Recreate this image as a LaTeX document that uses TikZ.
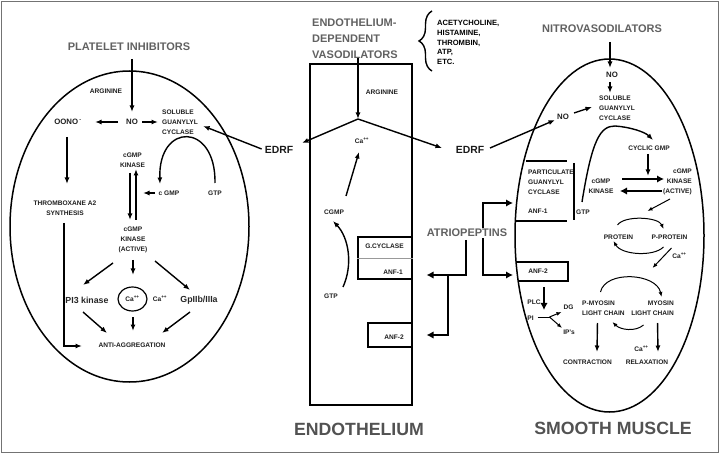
\documentclass[tikz,border=0pt]{standalone}
\usepackage{fontspec}
\setmainfont{Liberation Sans}
\usetikzlibrary{arrows.meta,decorations.pathreplacing,shapes.geometric}

\begin{document}
\begin{tikzpicture}[x=1pt, y=-1pt, >={Latex[length=6.5pt,width=5pt]}]
        \tikzstyle{every node}=[inner sep=0pt]
        \tikzstyle{ttl}=[font=\bfseries\fontsize{11}{16}\selectfont, text=black!62, align=left]
        \tikzstyle{big}=[font=\bfseries\fontsize{17.7}{20}\selectfont, text=black!68]
        \tikzstyle{lbl}=[font=\bfseries\fontsize{6.6}{10}\selectfont, text=black!88, align=center]
        \tikzstyle{mid}=[font=\bfseries\fontsize{7.8}{10}\selectfont, text=black!88]
        \tikzstyle{med}=[font=\bfseries\fontsize{8.8}{10}\selectfont, text=black!85]
        \tikzstyle{edrf}=[font=\bfseries\fontsize{10.4}{12}\selectfont, text=black!90]
        \tikzstyle{arr}=[->, line width=1.4pt]
        \tikzstyle{thn}=[->, line width=1pt, >={Latex[length=5pt,width=4pt]}]
        \tikzstyle{thk}=[->, line width=2.3pt, >={Latex[length=7pt,width=7.5pt]}]
        \tikzstyle{wall}=[line width=1.5pt]

        \useasboundingbox (0,0) rectangle (720,454);
        \draw[black!55, line width=1.2pt] (1.5,1.5) rectangle (718.5,452.5);

        \node[edrf] (edrfL) at (279,150) {EDRF};
        \node[edrf] (edrfR) at (470,150) {EDRF};

        \draw[wall] (129.5,226.5) ellipse (119.5pt and 155.5pt);
        \node[ttl] (plt) at (129,47) {PLATELET INHIBITORS};
        \node[lbl] (argL) at (106,91) {ARGININE};
        \node[mid] (noL) at (132,122) {NO};
        \node[mid] (oono) at (68,122) {OONO\,\textsuperscript{-}};
        \node[lbl, align=left, anchor=west] (sgcL) at (162,122) {SOLUBLE\\GUANYLYL\\CYCLASE};
        \node[lbl] (ckL) at (132.5,160.5) {cGMP\\KINASE};
        \node[lbl] (cgmpL) at (169,193) {c GMP};
        \node[lbl] (gtpL) at (215,193) {GTP};
        \node[lbl] (thx) at (65,208) {THROMBOXANE A2\\SYNTHESIS};
        \node[lbl] (ckaL) at (133,240) {cGMP\\KINASE\\(ACTIVE)};
        \node[med] (pi3) at (87,300) {PI3 kinase};
        \node[draw, ellipse, line width=1.2pt, minimum width=29pt, minimum height=24pt] (cell) at (132.5,299) {};
        \node[lbl] (caIn) at (cell) {Ca\textsuperscript{++}};
        \node[lbl] (caOut) at (160,299) {Ca\textsuperscript{++}};
        \node[med] (gp) at (199,300) {GpIIb/IIIa};
        \node[lbl] (anti) at (132,345) {ANTI-AGGREGATION};

        \draw[arr] ([shift={(3,12)}]plt.center) -- ([shift={(0,-10)}]noL.center);
        \draw[arr] ([shift={(-14,0)}]noL.center) -- ([shift={(27,0)}]oono.center);
        \draw[arr] ([shift={(10,0)}]noL.center) -- ([shift={(-4,0)}]sgcL.west);
        \draw[arr] ([shift={(-3,-1)}]edrfL.west) -- ([shift={(5,4)}]sgcL.east);
        \draw[arr] ([shift={(-1,15)}]oono.center) -- ([shift={(2,-24)}]thx.center);
        \draw[arr] ([shift={(-1,15)}]thx.center) |- ([shift={(-50,1)}]anti.center);
        \draw[arr] ([shift={(0,-10)}]gtpL.center) .. controls +(1,-61) and +(-2,-62) .. ([shift={(-9,-9)}]cgmpL.center);
        \draw[arr] ([shift={(-14,0)}]cgmpL.center) -- ([shift={(10.5,32.5)}]ckL.center);
        \draw[arr, line width=1.8pt] ([shift={(-2.5,12.5)}]ckL.center) -- ([shift={(-3,-20)}]ckaL.center);
        \draw[arr, line width=1.8pt] ([shift={(3,-20)}]ckaL.center) -- ([shift={(3.5,8.5)}]ckL.center);
        \draw[arr] ([shift={(-20,23)}]ckaL.center) -- ([shift={(-4,-15)}]pi3.center);
        \draw[arr] ([shift={(0,20)}]ckaL.center) -- ([shift={(0.5,-24)}]cell.center);
        \draw[arr] ([shift={(22,21)}]ckaL.center) -- ([shift={(-9,-10)}]gp.center);
        \draw[arr] ([shift={(-4,12)}]pi3.center) -- ([shift={(-25,-12)}]anti.center);
        \draw[arr] ([shift={(0.5,18)}]cell.center) -- ([shift={(1,-14)}]anti.center);
        \draw[arr] ([shift={(-9,12)}]gp.center) -- ([shift={(30,-12)}]anti.center);

        \node[draw, wall, minimum width=102pt, minimum height=341pt] (ebox) at (361,234.5) {};
        \node[ttl, anchor=west] (edv) at (312,39) {ENDOTHELIUM-\\DEPENDENT\\VASODILATORS};
        \draw[decorate, decoration={brace, amplitude=13pt}, line width=1.4pt] (432,71) -- (432,11);
        \node[lbl, font=\bfseries\fontsize{7.6}{9.8}\selectfont, text=black, align=left, anchor=west] (agents) at (437,42.5) {ACETYCHOLINE,\\HISTAMINE,\\THROMBIN,\\ATP,\\ETC.};
        \node[lbl] (argC) at (382,92) {ARGININE};
        \coordinate (jn) at (358,119);
        \draw[arr] ([shift={(46,19)}]edv.west) -- (jn);
        \draw[arr] (jn) -- ([shift={(23,-7)}]edrfL.center);
        \draw[arr] (jn) -- ([shift={(-28,-2)}]edrfR.center);
        \node[lbl] (caC) at (362,141) {Ca\textsuperscript{++}};
        \node[lbl] (cgmpC) at (334,212) {CGMP};
        \node[lbl] (gtpC) at (331,296) {GTP};
        \draw[arr] ([shift={(12,-16)}]cgmpC.center) -- ([shift={(-3,11)}]caC.center);
        \draw[arr] ([shift={(12,-9)}]gtpC.center) .. controls +(10,-22) and +(16,17) .. ([shift={(-1,9)}]cgmpC.center);
        \node[draw, line width=1.1pt, minimum width=54pt, minimum height=42pt] (gcyc) at (385,258) {};
        \draw[black!40, line width=0.7pt] (gcyc.west) -- (gcyc.east);
        \node[lbl] (gcycT) at (384.5,246) {G.CYCLASE};
        \node[lbl] (anf1C) at (393,272) {ANF-1};
        \node[draw, line width=1.1pt, minimum width=44pt, minimum height=24pt] (anf2box) at (390,335) {};
        \node[lbl] (anf2C) at (394,337) {ANF-2};
        \node[big] (endo) at (359,429) {ENDOTHELIUM};

        \draw[wall] (609.5,235.5) ellipse (94.5pt and 176.5pt);
        \node[ttl] (nitro) at (602,29) {NITROVASODILATORS};
        \node[mid] (noR1) at (612,75) {NO};
        \node[lbl, align=left, anchor=west] (sgcR) at (599,108) {SOLUBLE\\GUANYLYL\\CYCLASE};
        \node[mid] (noR2) at (563,117) {NO};
        \node[lbl] (cyc) at (649,148) {CYCLIC GMP};
        \node[lbl] (ckR) at (601,186.5) {cGMP\\KINASE};
        \node[lbl, align=right, anchor=east] (ckaR) at (692,181.5) {cGMP\\KINASE\\(ACTIVE)};
        \node[lbl, align=left, anchor=west] (pgc) at (528,182) {PARTICULATE\\GUANYLYL\\CYCLASE};
        \node[lbl, anchor=west] (anf1R) at (528,211) {ANF-1};
        \node[lbl] (gtpR) at (583,212) {GTP};
        \node[lbl] (anf2R) at (538,271) {ANF-2};
        \node[lbl] (plc) at (534,302) {PLC};
        \node[lbl] (pi) at (530.5,318) {PI};
        \node[lbl] (dg) at (568.5,307) {DG};
        \node[lbl] (ips) at (569,332) {IP's};
        \node[lbl] (prot) at (618.5,237) {PROTEIN};
        \node[lbl] (pprot) at (669.5,237) {P-PROTEIN};
        \node[lbl] (caR1) at (679.5,256) {Ca\textsuperscript{++}};
        \node[lbl, align=left, anchor=west] (pmyo) at (582,308.5) {P-MYOSIN\\LIGHT CHAIN};
        \node[lbl, align=right, anchor=east] (myo) at (674,308.5) {MYOSIN\\LIGHT CHAIN};
        \node[lbl] (caR2) at (641.5,349) {Ca\textsuperscript{++}};
        \node[lbl] (contr) at (587.5,362) {CONTRACTION};
        \node[lbl] (relax) at (647,362) {RELAXATION};
        \node[big] (sm) at (613,428) {SMOOTH MUSCLE};

        \draw[line width=1.8pt] ([shift={(-2,-21)}]pgc.west) -- ++(41,0);
        \draw[line width=2pt] ([shift={(46,-19)}]pgc.west) -- ++(0,57);
        \draw[line width=1.8pt] ([shift={(-13,39)}]pgc.west) -- ++(52,0);
        \draw[line width=2pt] ([shift={(-22,-9)}]anf2R.center) -- ++(52,0) -- ++(0,19) -- ++(-49,0);

        \draw[arr] ([shift={(8,13)}]nitro.center) -- ([shift={(-2,-7)}]noR1.center);
        \draw[arr] ([shift={(-2,7)}]noR1.center) -- ([shift={(11,-15)}]sgcR.west);
        \draw[arr] ([shift={(20,-2)}]edrfR.center) -- ([shift={(-8,3)}]noR2.center);
        \draw[arr] ([shift={(11,-4)}]noR2.center) -- ([shift={(-7,-1)}]sgcR.west);
        \draw[arr] ([shift={(-1,-10)}]gtpR.center) .. controls +(10,-62) and +(-15,0) .. ([shift={(-34,-22)}]cyc.center) .. controls +(15,1) and +(-8,-8) .. ([shift={(4,-8)}]cyc.center);
        \draw[arr] ([shift={(-1,6)}]cyc.center) -- ([shift={(47,-10.5)}]ckR.center);
        \draw[thk] ([shift={(21,-7.5)}]ckR.center) -- ([shift={(-28,-2.5)}]ckaR.east);
        \draw[thk] ([shift={(-30,9.5)}]ckaR.east) -- ([shift={(19,4.5)}]ckR.center);
        \draw[thn] ([shift={(-22,17.5)}]ckaR.east) -- ([shift={(29,-26)}]prot.center);
        \draw[thn] ([shift={(-1,-12)}]prot.center) .. controls +(7,-10) and +(-5,-12) .. ([shift={(-6,-8)}]pprot.center);
        \draw[thn] ([shift={(-6,10)}]pprot.center) .. controls +(-10,10) and +(8,14) .. ([shift={(-5,4)}]prot.center);
        \draw[thn] ([shift={(2,11)}]pprot.center) -- ([shift={(-17,31)}]pprot.center);
        \draw[thn] ([shift={(-3,-16.5)}]pmyo.center) .. controls +(5,-22) and +(-5,-24) .. ([shift={(9,-11.5)}]myo.center);
        \draw[thn] ([shift={(-9,16.5)}]myo.center) .. controls +(-8,7) and +(8,8) .. ([shift={(9,13.5)}]pmyo.center);
        \draw[arr] ([shift={(-6,14.5)}]pmyo.center) -- ([shift={(9.5,-10)}]contr.center);
        \draw[arr] ([shift={(5,14.5)}]myo.center) -- ([shift={(11,-10)}]relax.center);
        \draw[thk] ([shift={(6,16)}]anf2R.center) -- ([shift={(13.5,-8)}]pi.center);
        \draw[line width=1pt] ([shift={(7,-1)}]pi.center) -- ++(12,0) coordinate (fk);
        \draw[thn] (fk) -- ([shift={(-7,5)}]dg.center);
        \draw[thn] (fk) -- ([shift={(-7,-4)}]ips.center);

        \coordinate (atc) at (467,233);
        \draw[thk] ([shift={(-1,7)}]atc) |- ([shift={(14,17)}]gcyc.east);
        \draw[thk] ([shift={(-19,42)}]atc) |- ([shift={(14,0)}]anf2box.east);
        \draw[thk, <->] ([shift={(-15,-8)}]anf1R.west) -| ([shift={(16,6)}]atc) |- ([shift={(-25,4)}]anf2R.center);
        \node[ttl, fill=white, inner sep=1pt] (atp) at (atc) {ATRIOPEPTINS};
    \end{tikzpicture}
\end{document}
